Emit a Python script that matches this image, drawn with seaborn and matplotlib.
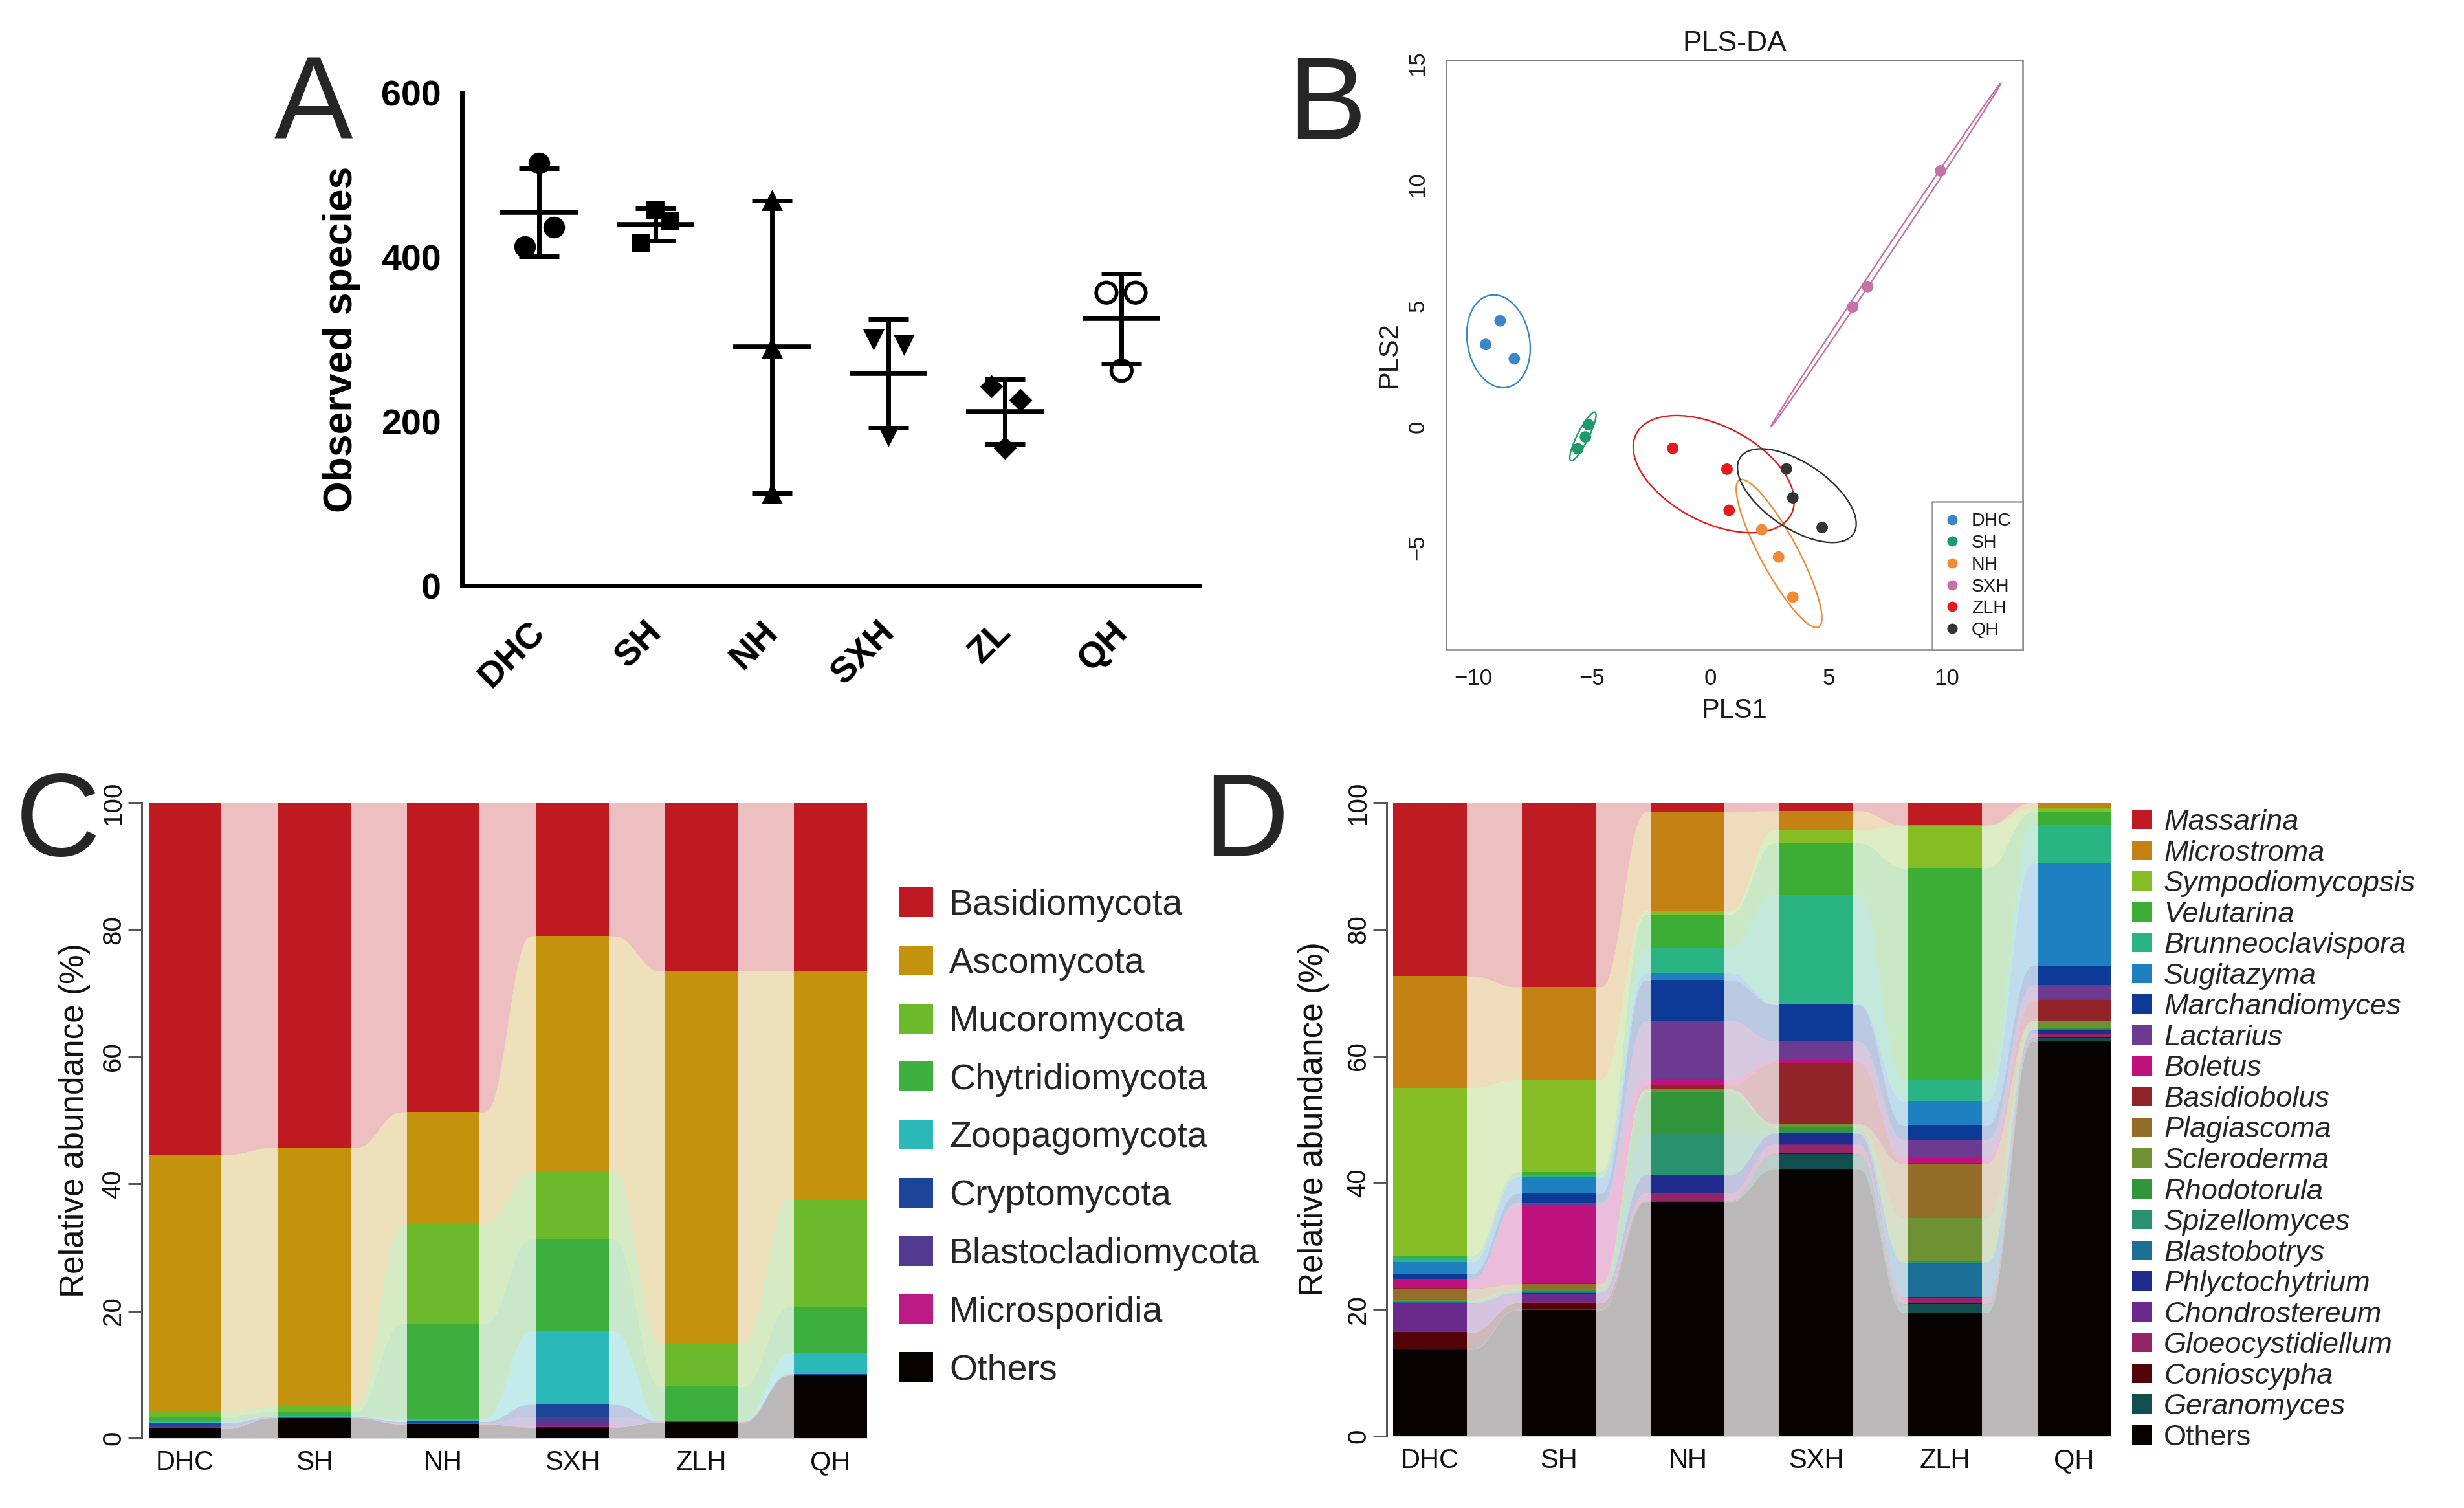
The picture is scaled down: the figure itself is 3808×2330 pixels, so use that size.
import numpy as np
import pandas as pd
import matplotlib
matplotlib.use("Agg")
import matplotlib.pyplot as plt
from matplotlib.patches import Ellipse, Patch
from matplotlib.lines import Line2D
from matplotlib.transforms import ScaledTranslation
import seaborn as sns

# ------------------------------------------------------------------ data
# Panel A : observed species (3 replicates per site)
a_groups = ["DHC", "SH", "NH", "SXH", "ZL", "QH"]
obs_dhc = [515, 437, 413]
obs_sh = [457, 445, 418]
obs_nh = [470, 290, 113]
obs_sxh = [300, 293, 182]
obs_zl = [243, 226, 168]
obs_qh = [357, 357, 262]

# Panel B : PLS-DA scores
pls_groups = ["DHC", "SH", "NH", "SXH", "ZLH", "QH"]
pls_group = ["DHC"] * 3 + ["SH"] * 3 + ["NH"] * 3 + ["SXH"] * 3 + ["ZLH"] * 3 + ["QH"] * 3
pls1 = [-9.48, -8.87, -8.27, -5.59, -5.27, -5.14, 2.18, 2.89, 3.49,
        6.02, 6.65, 9.73, -1.58, 0.71, 0.80, 3.22, 3.49, 4.73]
pls2 = [3.39, 4.37, 2.80, -0.92, -0.43, 0.08, -4.26, -5.39, -7.04,
        4.94, 5.78, 10.56, -0.90, -1.76, -3.46, -1.75, -2.94, -4.17]
# 95% confidence ellipses (centre, semi-axes, angle in degrees)
ell_cx = [-8.94, -5.375, 2.91, 7.425, 0.15, 3.66]
ell_cy = [3.52, -0.405, -5.245, 7.09, -1.965, -2.855]
ell_a = [1.934, 1.123, 3.464, 8.59, 3.67, 2.864]
ell_b = [1.312, 0.238, 0.785, 0.12, 1.99, 1.355]
ell_angle = [101.2, 62.8, 118.9, 55.6, -26.6, -33.2]

# Panels C/D : samples
samples = ["DHC", "SH", "NH", "SXH", "ZLH", "QH"]

# Panel C : phylum relative abundance (%), legend order (top of stack first)
phyla = ["Basidiomycota", "Ascomycota", "Mucoromycota", "Chytridiomycota",
         "Zoopagomycota", "Cryptomycota", "Blastocladiomycota", "Microsporidia", "Others"]
basidiomycota = [55.4, 54.3, 48.7, 21.0, 26.5, 26.5]
ascomycota = [40.4, 40.7, 17.6, 37.1, 58.5, 35.8]
mucoromycota = [0.8, 0.8, 15.7, 10.6, 6.9, 17.0]
chytridiomycota = [0.8, 0.7, 15.0, 14.5, 5.35, 7.3]
zoopagomycota = [0.2, 0.1, 0.4, 11.5, 0.1, 3.3]
cryptomycota = [0.5, 0.1, 0.2, 1.9, 0.05, 0.1]
blastocladiomycota = [0.3, 0.05, 0.1, 1.5, 0.05, 0.05]
microsporidia = [0.1, 0.05, 0.1, 0.2, 0.05, 0.05]
others_phylum = [1.5, 3.2, 2.2, 1.7, 2.5, 9.9]

# Panel D : genus relative abundance (%), legend order (top of stack first)
genera = ["Massarina", "Microstroma", "Sympodiomycopsis", "Velutarina", "Brunneoclavispora",
          "Sugitazyma", "Marchandiomyces", "Lactarius", "Boletus", "Basidiobolus",
          "Plagiascoma", "Scleroderma", "Rhodotorula", "Spizellomyces", "Blastobotrys",
          "Phlyctochytrium", "Chondrostereum", "Gloeocystidiellum", "Conioscypha",
          "Geranomyces", "Others"]
massarina = [27.4, 29.1, 1.5, 1.3, 3.6, 0.0]
microstroma = [17.6, 14.6, 15.6, 3.0, 0.1, 0.9]
sympodiomycopsis = [26.5, 14.6, 0.6, 2.1, 6.6, 0.6]
velutarina = [0.4, 0.4, 5.2, 8.2, 33.4, 2.0]
brunneoclavispora = [0.6, 0.4, 4.0, 17.2, 3.4, 6.1]
sugitazyma = [1.9, 2.6, 1.1, 0.1, 3.9, 16.2]
marchandiomyces = [0.8, 1.5, 6.4, 5.8, 2.2, 3.0]
lactarius = [0.1, 0.4, 9.2, 3.0, 2.7, 2.3]
boletus = [1.3, 12.3, 1.0, 0.4, 1.0, 0.1]
basidiobolus = [0.1, 0.1, 0.6, 9.6, 0.1, 3.2]
plagiascoma = [1.7, 0.8, 0.1, 0.1, 8.6, 0.1]
scleroderma = [0.3, 0.1, 0.5, 0.5, 6.8, 1.1]
rhodotorula = [0.1, 0.3, 6.3, 0.7, 0.1, 0.1]
spizellomyces = [0.1, 0.1, 6.6, 0.1, 0.1, 0.1]
blastobotrys = [0.1, 0.1, 0.1, 0.1, 5.4, 0.1]
phlyctochytrium = [0.1, 0.1, 2.8, 1.7, 0.1, 0.6]
chondrostereum = [4.4, 1.4, 0.1, 0.1, 0.1, 0.1]
gloeocystidiellum = [0.1, 0.1, 1.1, 1.4, 0.9, 0.5]
conioscypha = [2.6, 1.0, 0.1, 0.1, 0.1, 0.1]
geranomyces = [0.1, 0.1, 0.1, 2.3, 1.3, 0.5]
others_genus = [13.7, 19.9, 37.0, 42.2, 19.5, 62.3]

# ------------------------------------------------------------------ styles
a_values = [obs_dhc, obs_sh, obs_nh, obs_sxh, obs_zl, obs_qh]
a_offsets = [[0, 0.13, -0.12], [0, 0.12, -0.12], [0, 0, 0],
             [-0.13, 0.13, 0], [-0.12, 0.13, 0], [-0.13, 0.12, 0]]
a_markers = ["o", "s", "^", "v", "D", "o"]
a_sizes = [580, 430, 560, 560, 330, 520]
a_filled = [True, True, True, True, True, False]

pls_colors = {"DHC": "#3A87C8", "SH": "#1E9B6C", "NH": "#F08A35",
              "SXH": "#C870A9", "ZLH": "#E41A1C", "QH": "#333333"}

phyla_colors = ["#BF1A21", "#C4920D", "#6DB92C", "#3DAF3F", "#2BB8B8",
                "#1C4499", "#523A92", "#BC1B85", "#080303"]
genus_colors = ["#BE1B22", "#C38213", "#86BD24", "#3DAE35", "#2AB383", "#1F80C1",
                "#0D3A96", "#6C3A91", "#BE117E", "#912329", "#946E28", "#6E9233",
                "#31953A", "#2A916E", "#1C6F97", "#1F2C8D", "#6A2A8C", "#952467",
                "#52040A", "#114E4E", "#080303"]

sns.set_theme(style="white")
plt.rcParams["font.family"] = ["Liberation Sans", "DejaVu Sans"]
plt.rcParams["axes.unicode_minus"] = True

W, H = 3808, 2330
DPI = 100
fig = plt.figure(figsize=(W / DPI, H / DPI), dpi=DPI, facecolor="white")


def fbox(l, t, r, b):
    return [l / W, 1 - b / H, (r - l) / W, (b - t) / H]


# ================================================================== A
ax_a = fig.add_axes(fbox(714, 144, 1854, 905))
for i, vals in enumerate(a_values):
    xs = i + np.array(a_offsets[i])
    if a_filled[i]:
        sns.scatterplot(x=xs, y=vals, marker=a_markers[i], s=a_sizes[i], color="black",
                        edgecolor="black", linewidth=0, ax=ax_a, legend=False, zorder=3)
    else:
        ax_a.scatter(xs, vals, marker="o", s=a_sizes[i], facecolors="none",
                     edgecolors="black", linewidths=4, zorder=3)
    m = np.mean(vals)
    sd = np.std(vals, ddof=1)
    ax_a.errorbar(i, m, yerr=sd, color="black", lw=5, capsize=22, capthick=5, zorder=4)
    ax_a.hlines(m, i - 0.333, i + 0.333, color="black", lw=5.5, zorder=4)

ax_a.set_xlim(-0.66, 5.67)
ax_a.set_ylim(0, 600)
for s in ["top", "right"]:
    ax_a.spines[s].set_visible(False)
for s in ["left", "bottom"]:
    ax_a.spines[s].set_linewidth(5)
    ax_a.spines[s].set_color("black")
    ax_a.spines[s].set_capstyle("projecting")
ax_a.set_yticks([0, 200, 400, 600])
ax_a.set_xticks(range(len(a_groups)))
ax_a.set_xticklabels(a_groups, rotation=45, ha="right", va="top", rotation_mode="anchor")
ax_a.tick_params(axis="both", direction="out", length=15, width=5, color="black",
                 labelsize=40, labelcolor="black")
ax_a.tick_params(axis="x", pad=18)
ax_a.tick_params(axis="y", pad=8)
for lab in ax_a.get_xticklabels():
    lab.set_fontweight("bold")
    lab.set_transform(lab.get_transform() + ScaledTranslation(-0.17, 0, fig.dpi_scale_trans))
for lab in ax_a.get_yticklabels():
    lab.set_fontweight("bold")
ax_a.set_ylabel("Observed species", fontsize=45, fontweight="bold", color="black")
ax_a.yaxis.set_label_coords(-0.138, 0.5)
ax_a.set_xlabel("")

# ================================================================== B
ax_b = fig.add_axes(fbox(2235, 93, 3126, 1004))
dfb = pd.DataFrame({"PLS1": pls1, "PLS2": pls2, "group": pls_group})
for i, g in enumerate(pls_groups):
    ax_b.add_patch(Ellipse((ell_cx[i], ell_cy[i]), 2 * ell_a[i], 2 * ell_b[i],
                           angle=ell_angle[i], fill=False, ec=pls_colors[g], lw=1.7, zorder=2))
sns.scatterplot(data=dfb, x="PLS1", y="PLS2", hue="group", hue_order=pls_groups,
                palette=pls_colors, s=165, edgecolor="none", linewidth=0,
                legend=False, ax=ax_b, zorder=3)
ax_b.set_xlim(-11.15, 13.2)
ax_b.set_ylim(-9.22, 15.13)
ax_b.set_xticks([-10, -5, 0, 5, 10])
ax_b.set_yticks([-5, 0, 5, 10, 15])
for s in ax_b.spines.values():
    s.set_color("#808080")
    s.set_linewidth(1.8)
ax_b.tick_params(axis="both", direction="out", length=13, width=1.8, color="#808080",
                 labelsize=25, labelcolor="#1a1a1a", pad=7)
for lab in ax_b.get_yticklabels():
    lab.set_rotation(90)
    lab.set_va("center")
ax_b.set_xlabel("PLS1", fontsize=30, color="#1a1a1a")
ax_b.set_ylabel("PLS2", fontsize=30, color="#1a1a1a")
ax_b.xaxis.set_label_coords(0.5, -0.081)
ax_b.yaxis.set_label_coords(-0.077, 0.5)
ax_b.set_title("PLS-DA", fontsize=32, color="#1a1a1a", pad=10)
handles_b = [Line2D([], [], ls="", marker="o", markersize=11.5, markerfacecolor=pls_colors[g],
                    markeredgecolor="none") for g in pls_groups]
leg_b = ax_b.legend(handles_b, pls_groups, loc="lower right", bbox_to_anchor=(1, 0),
                    borderaxespad=0, frameon=True, fancybox=False, fontsize=20.5,
                    handlelength=1.0, handletextpad=0.55, borderpad=0.6, labelspacing=0.27)
leg_b.get_frame().set_edgecolor("#808080")
leg_b.get_frame().set_linewidth(1.8)
for t in leg_b.get_texts():
    t.set_color("#1a1a1a")


# ================================================================== C / D helpers
def boundary_curve(v, width, xs):
    hw = width / 2
    y = np.zeros_like(xs)
    n = len(v)
    for i in range(n):
        msk = (xs >= i - hw - 1e-9) & (xs <= i + hw + 1e-9)
        y[msk] = v[i]
    for i in range(n - 1):
        x0, x1 = i + hw, i + 1 - hw
        msk = (xs > x0) & (xs < x1)
        t = (xs[msk] - x0) / (x1 - x0)
        t = np.clip((t - 0.06) / 0.88, 0, 1)
        s = t * t * t * (t * (6 * t - 15) + 10)
        y[msk] = v[i] + (v[i + 1] - v[i]) * s
    return y


def draw_stack(ax, layer_names, layer_values, colors, width):
    # layer_values in legend order (top first); stack from the bottom
    vals = np.array(layer_values, dtype=float)[::-1]
    cols = list(colors)[::-1]
    cum = np.cumsum(vals, axis=0)
    low = np.vstack([np.zeros(vals.shape[1]), cum[:-1]])
    n = vals.shape[1]
    xs = np.linspace(-width / 2, n - 1 + width / 2, 3000)
    for k in range(vals.shape[0]):
        lo = boundary_curve(low[k], width, xs)
        hi = boundary_curve(cum[k], width, xs)
        ax.fill_between(xs, lo, hi, color=cols[k], alpha=0.28, lw=0, zorder=1)
    # bars: cumulative heights drawn from the top layer down
    rows = []
    names_bottom_up = list(layer_names)[::-1]
    for k in range(vals.shape[0] - 1, -1, -1):
        for j, smp in enumerate(samples):
            rows.append({"sample": smp, "cum": cum[k, j], "layer": names_bottom_up[k]})
    df = pd.DataFrame(rows)
    pal = dict(zip(layer_names, colors))
    sns.barplot(data=df, x="sample", y="cum", hue="layer", hue_order=list(layer_names),
                order=samples, palette=pal, dodge=False, width=width, saturation=1,
                errorbar=None, linewidth=0, legend=False, ax=ax, zorder=2)


def style_stack(ax, xl, xr, ylab_x):
    ax.set_xlim(xl, xr)
    ax.set_ylim(0, 100)
    for s in ["top", "right", "bottom"]:
        ax.spines[s].set_visible(False)
    ax.spines["left"].set_color("#555555")
    ax.spines["left"].set_linewidth(2.2)
    ax.set_yticks([0, 20, 40, 60, 80, 100])
    ax.set_xticks(range(len(samples)))
    ax.set_xticklabels(samples)
    ax.tick_params(axis="y", direction="out", length=15, width=2.2, color="#555555",
                   labelsize=29, labelcolor="#111111", pad=3, left=True)
    ax.tick_params(axis="x", length=0, labelsize=30, labelcolor="#111111", pad=13)
    for lab in ax.get_yticklabels():
        lab.set_rotation(90)
        lab.set_va("center")
    ax.set_xlabel("")
    ax.set_ylabel("Relative abundance (%)", fontsize=37, color="#111111")
    ax.yaxis.set_label_coords(ylab_x, 0.5)
    ax.grid(False)


# ================================================================== C
ax_c = fig.add_axes(fbox(219, 1240, 1340, 2222))
phyla_values = [basidiomycota, ascomycota, mucoromycota, chytridiomycota, zoopagomycota,
                cryptomycota, blastocladiomycota, microsporidia, others_phylum]
draw_stack(ax_c, phyla, phyla_values, phyla_colors, 0.562)
style_stack(ax_c, -0.336, 5.283, -0.0705)
handles_c = [Patch(facecolor=c, edgecolor="none") for c in phyla_colors]
fig.legend(handles_c, phyla, loc="upper left", bbox_to_anchor=(1390 / W, 1 - 1371 / H),
           frameon=False, fontsize=40, handlelength=0.935, handleheight=0.9,
           handletextpad=0.45, labelspacing=0.64, borderpad=0, borderaxespad=0)

# ================================================================== D
ax_d = fig.add_axes(fbox(2143, 1240, 3262, 2219))
genus_values = [massarina, microstroma, sympodiomycopsis, velutarina, brunneoclavispora,
                sugitazyma, marchandiomyces, lactarius, boletus, basidiobolus, plagiascoma,
                scleroderma, rhodotorula, spizellomyces, blastobotrys, phlyctochytrium,
                chondrostereum, gloeocystidiellum, conioscypha, geranomyces, others_genus]
draw_stack(ax_d, genera, genus_values, genus_colors, 0.572)
style_stack(ax_d, -0.3365, 5.284, -0.0786)
handles_d = [Patch(facecolor=c, edgecolor="none") for c in genus_colors]
leg_d = fig.legend(handles_d, genera, loc="upper left", bbox_to_anchor=(3295 / W, 1 - 1250 / H),
                   frameon=False, fontsize=32.5, handlelength=0.69, handleheight=0.65,
                   handletextpad=0.4, labelspacing=0.145, borderpad=0, borderaxespad=0)
for t in leg_d.get_texts()[:-1]:
    t.set_fontstyle("italic")

# ================================================================== panel letters
fig.text(424 / W, 1 - 214 / H, "A", fontsize=131, ha="left", va="baseline")
fig.text(1990 / W, 1 - 215 / H, "B", fontsize=131, ha="left", va="baseline")
fig.text(24 / W, 1 - 1322 / H, "C", fontsize=131, ha="left", va="baseline")
fig.text(1860 / W, 1 - 1322 / H, "D", fontsize=131, ha="left", va="baseline")

fig.savefig("out.png", dpi=DPI, facecolor="white")
